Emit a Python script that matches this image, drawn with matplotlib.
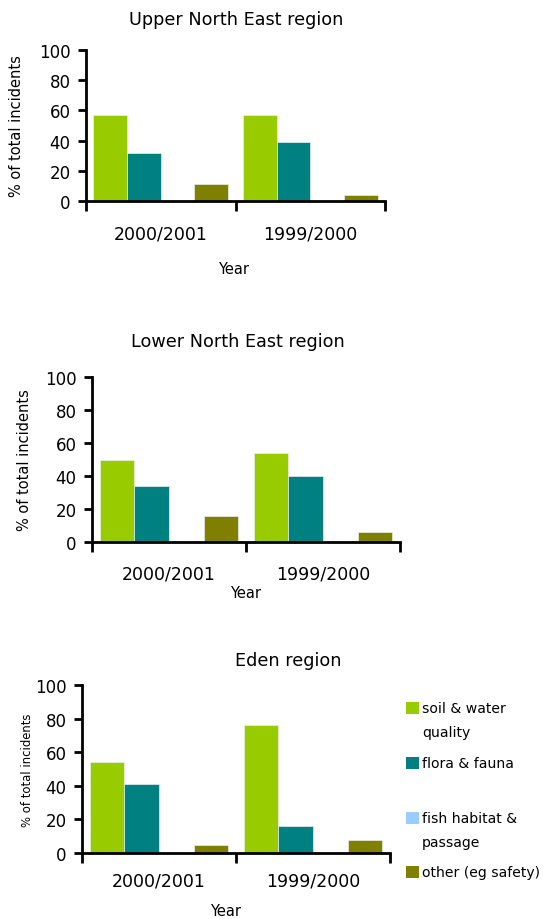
import matplotlib.pyplot as plt
from matplotlib.patches import Rectangle

# Datos: porcentaje de incidentes por tipo, región y año
years = ['2000/2001', '1999/2000']
series = ['soil & water\nquality', 'flora & fauna', 'fish habitat &\npassage', 'other (eg safety)']
colors = ['#99CC00', '#008080', '#99CCFF', '#808000']

upper_ne = [[57, 57], [32, 39], [0, 0], [11, 4]]
lower_ne = [[50, 54], [34, 40], [0, 0], [16, 6]]
eden = [[54, 76], [41, 16], [0, 0], [5, 8]]

regions = ['Upper North East region', 'Lower North East region', 'Eden region']
data = [upper_ne, lower_ne, eden]

W, H = 546, 920
plt.rcParams['font.family'] = ['DejaVu Sans']
fig = plt.figure(figsize=(W / 100, H / 100), dpi=100)

# Cajas de los ejes en píxeles: izquierda, derecha, arriba, abajo
boxes = [(86, 385, 51, 202), (92, 400, 378, 543), (82, 390, 686, 854)]
titles_xy = [(236, 20), (238, 342), (288, 661)]
ylab_x = [17, 25, 28]
ylab_fs = [10.5, 10.5, 8.4]
year_xy = [(234, 269), (246, 593), (226, 912)]
ticklab_pad = [17, 16, 13]

w = 0.225
offsets = [-1.5 * w, -0.5 * w, 0.5 * w, 1.5 * w]

def px(x, y):
    # convierte píxeles (origen arriba a la izquierda) a fracción de figura
    return x / W, 1 - y / H

for i, reg in enumerate(data):
    l, r, t, b = boxes[i]
    ax = fig.add_axes([l / W, 1 - b / H, (r - l) / W, (b - t) / H])
    for k, vals in enumerate(reg):
        xs = [j + offsets[k] for j in range(len(years))]
        ax.bar(xs, vals, width=w, color=colors[k], edgecolor='#e8f0e8', linewidth=0.5)

    ax.set_xlim(-0.5, len(years) - 0.5)
    ax.set_ylim(0, 100)
    ax.set_yticks([0, 20, 40, 60, 80, 100])
    ax.tick_params(axis='y', labelsize=12, length=6, width=2, pad=5)

    # Marcas en los límites de cada categoría, etiquetas en el centro
    ax.set_xticks([-0.5, 0.5, 1.5])
    ax.set_xticklabels([])
    ax.tick_params(axis='x', which='major', length=7, width=2)
    ax.set_xticks([0, 1], minor=True)
    ax.set_xticklabels(years, minor=True, fontsize=12.5)
    ax.tick_params(axis='x', which='minor', length=0, pad=ticklab_pad[i])

    for s in ['top', 'right']:
        ax.spines[s].set_visible(False)
    for s in ['left', 'bottom']:
        ax.spines[s].set_linewidth(2)

    fig.text(*px(*titles_xy[i]), regions[i], ha='center', va='center', fontsize=12.7)
    fig.text(*px(ylab_x[i], (t + b) / 2), '% of total incidents',
             ha='center', va='center', rotation=90, fontsize=ylab_fs[i])
    fig.text(*px(*year_xy[i]), 'Year', ha='center', va='center', fontsize=10.5)

# Leyenda dibujada a mano: cuadrado de color y texto, entradas equiespaciadas
leg_y = [709, 764, 819, 873]
for k, lab in enumerate(series):
    x0, y0 = px(406, leg_y[k] + 6)
    fig.patches.append(Rectangle((x0, y0), 13 / W, 12 / H, transform=fig.transFigure,
                                 facecolor=colors[k], edgecolor='none'))
    for n, line in enumerate(lab.split('\n')):
        fig.text(*px(422, leg_y[k] + 24 * n), line, ha='left', va='center', fontsize=10.1)

fig.savefig('out.png', dpi=100)
